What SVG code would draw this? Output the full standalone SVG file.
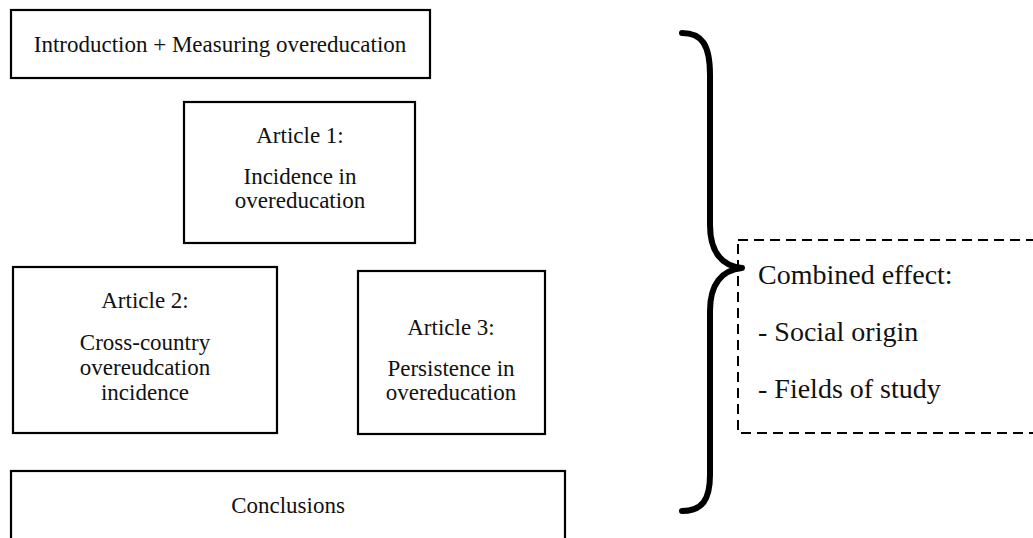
<svg xmlns="http://www.w3.org/2000/svg" width="1033" height="538" viewBox="0 0 1033 538">
<style>
.box{fill:#fff;stroke:#000;stroke-width:2.2}
.t{font-family:"Liberation Serif","Times New Roman",serif;fill:#111;text-anchor:middle;font-size:23px}
.r{font-family:"Liberation Serif","Times New Roman",serif;fill:#111;font-size:28px}
</style>
<rect width="1033" height="538" fill="#fff"/>
<g id="intro"><rect class="box" x="11" y="10" width="419" height="68"/><text class="t" x="220" y="52">Introduction + Measuring overeducation</text></g>
<g id="article1"><rect class="box" x="184" y="102" width="231" height="141"/><text class="t" x="300" y="143">Article 1:</text><text class="t" x="300" y="184">Incidence in</text><text class="t" x="300" y="208">overeducation</text></g>
<g id="article2"><rect class="box" x="13" y="267" width="264" height="166"/><text class="t" x="145" y="308">Article 2:</text><text class="t" x="145" y="350">Cross-country</text><text class="t" x="145" y="375">overeudcation</text><text class="t" x="145" y="400">incidence</text></g>
<g id="article3"><rect class="box" x="358" y="271" width="187" height="163"/><text class="t" x="451" y="335">Article 3:</text><text class="t" x="451" y="376">Persistence in</text><text class="t" x="451" y="400">overeducation</text></g>
<g id="conclusions"><rect class="box" x="11" y="471" width="554" height="80"/><text class="t" x="288" y="513">Conclusions</text></g>
<g id="connectors"><path d="M682,33 C702,33 710,45 710,75 L710,225 C710,252 722,266 742,268 C722,270 710,284 710,311 L710,475 C710,500 702,511 682,511" fill="none" stroke="#000" stroke-width="6" stroke-linecap="round" stroke-linejoin="round"/></g>
<g id="combined"><rect x="738" y="240" width="310" height="193" fill="none" stroke="#000" stroke-width="2" stroke-dasharray="10,6"/><text class="r" x="758" y="284">Combined effect:</text><text class="r" x="758" y="341">- Social origin</text><text class="r" x="758" y="398">- Fields of study</text></g>
</svg>
